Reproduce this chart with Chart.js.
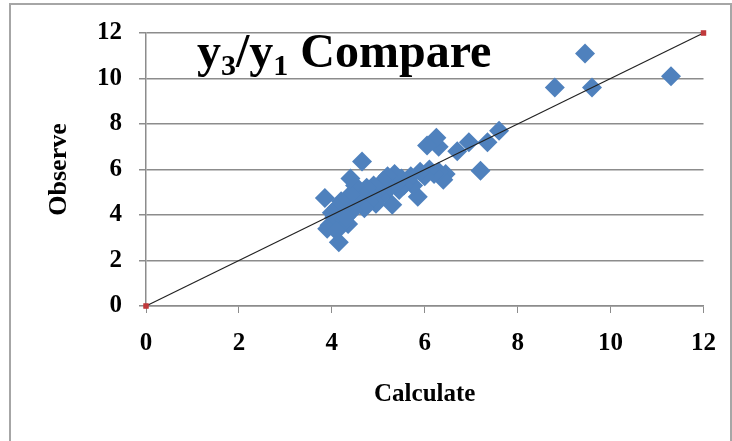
<!DOCTYPE html>
<html>
<head>
<meta charset="utf-8">
<script src="https://cdn.jsdelivr.net/npm/chart.js@4"></script>
<style>
  body { margin:0; background:#fff; }
  #wrap { position:relative; width:732px; height:441px; overflow:hidden; }
  #frame { position:absolute; left:9px; top:3px; width:719px; height:460px; border:2px solid #a6a6a6; }
  #chart { position:absolute; left:0; top:0; }
</style>
</head>
<body>
<div id="wrap">
  <div id="frame"></div>
  <canvas id="chart" width="732" height="441"></canvas>
</div>
<script>
// calculated vs observed values
const calcX = [11.3, 9.45, 9.6, 8.8, 7.6, 7.35, 7.2, 6.95, 6.7, 6.45, 6.4, 6.3, 6.3, 6.25, 6.2, 6.1, 6.05, 6.0,
  5.9, 5.85, 5.75, 5.7, 5.6, 5.55, 5.5, 5.45, 5.4, 5.35, 5.3, 5.25, 5.2, 5.15, 5.1, 5.05, 5.0,
  4.95, 4.9, 4.85, 4.8, 4.75, 4.7, 4.65, 4.6, 4.55, 4.5, 4.45, 4.4, 4.4, 4.35, 4.3, 4.25, 4.2,
  4.15, 4.1, 4.05, 4.0, 3.95, 3.9, 3.85, 4.1, 4.3];
const observeY = [10.1, 11.1, 9.6, 9.6, 7.7, 7.2, 5.95, 7.2, 6.8, 5.8, 5.55, 7.0, 5.9, 7.4, 5.8, 6.0, 7.05, 5.7,
  5.9, 4.8, 5.3, 5.7, 5.5, 5.3, 5.6, 5.1, 5.4, 5.8, 4.45, 5.2, 5.7, 5.0, 5.5, 4.8, 5.1,
  4.5, 5.3, 4.9, 4.6, 5.2, 4.3, 6.35, 5.0, 4.7, 5.3, 4.2, 4.9, 5.6, 3.6, 4.4, 3.7, 4.6,
  2.8, 4.3, 3.9, 4.1, 3.55, 3.4, 4.75, 3.3, 3.9];
const refLine = [0, 12];
const axisTicks = [0, 2, 4, 6, 8, 10, 12];

const points = calcX.map((x, i) => ({x: x, y: observeY[i]}));
const linePts = refLine.map(v => ({x: v, y: v}));

const serif = "'Liberation Serif', 'Times New Roman', serif";

// title with subscripts drawn inside the plot
const titlePlugin = {
  id: "subTitle",
  afterDatasetsDraw(chart) {
    const ctx = chart.ctx;
    const parts = [["y", 0], ["3", 1], ["/y", 0], ["1", 1], [" Compare", 0]];
    let x = 197;
    const base = 67;
    ctx.save();
    ctx.fillStyle = "#000";
    ctx.textBaseline = "alphabetic";
    parts.forEach(p => {
      ctx.font = p[1] ? "bold 30px " + serif : "bold 48px " + serif;
      ctx.fillText(p[0], x, p[1] ? base + 8 : base);
      x += ctx.measureText(p[0]).width;
    });
    ctx.restore();
  }
};

new Chart(document.getElementById("chart"), {
  type: "scatter",
  data: {
    datasets: [{
      type: "line",
      data: linePts,
      borderColor: "#222",
      borderWidth: 1.2,
      pointStyle: "rect",
      pointRadius: 3,
      pointBackgroundColor: "#c0393b",
      pointBorderColor: "#c0393b",
      clip: false,
      order: 0
    }, {
      data: points,
      pointStyle: "rectRot",
      pointRadius: 10,
      backgroundColor: "#4f81bd",
      borderColor: "#4f81bd",
      borderWidth: 0,
      order: 1
    }]
  },
  plugins: [titlePlugin],
  options: {
    responsive: false,
    animation: false,
    layout: { padding: { left: 44, top: 33, right: 28, bottom: 31 } },
    plugins: { legend: { display: false }, tooltip: { enabled: false } },
    scales: {
      x: {
        type: "linear",
        min: 0, max: 12,
        afterBuildTicks: s => { s.ticks = axisTicks.map(v => ({value: v})); },
        afterFit: s => { s.height = 104; },
        grid: { drawOnChartArea: false, drawTicks: true, tickLength: 7, color: "#8c8c8c" },
        border: { color: "#8c8c8c", width: 1.5 },
        ticks: { color: "#000", padding: 16, font: { family: serif, size: 25, weight: "bold" } },
        title: { display: true, text: "Calculate", color: "#000", padding: 0,
          font: { family: serif, size: 25, weight: "bold" } }
      },
      y: {
        type: "linear",
        min: 0, max: 12,
        afterBuildTicks: s => { s.ticks = axisTicks.map(v => ({value: v})); },
        afterFit: s => { s.width = 102; },
        grid: { color: "#8c8c8c", lineWidth: 1.5, tickLength: 7 },
        border: { color: "#8c8c8c", width: 1.5 },
        ticks: { color: "#000", padding: 17, font: { family: serif, size: 25, weight: "bold" } },
        title: { display: true, text: "Observe", color: "#000", padding: 0,
          font: { family: serif, size: 26, weight: "bold" } }
      }
    }
  }
});
</script>
</body>
</html>
